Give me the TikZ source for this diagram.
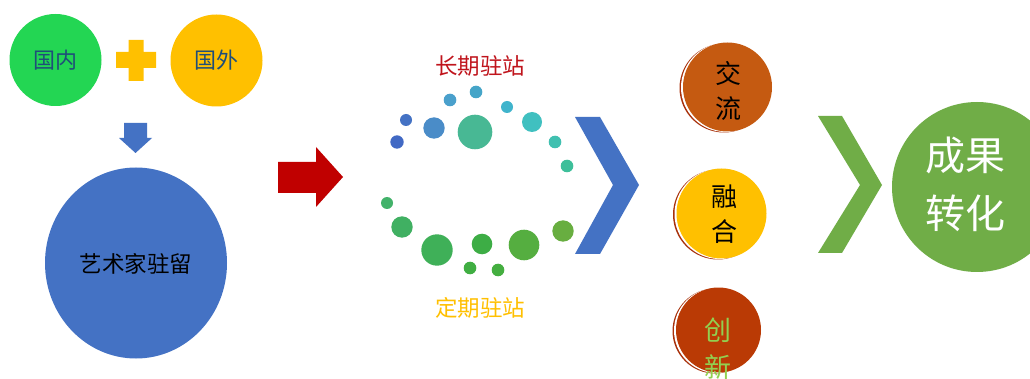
\documentclass[tikz,border=0pt]{standalone}
\usepackage{fontspec}
\setmainfont{Noto Sans CJK SC}
\usetikzlibrary{shapes.geometric}
\definecolor{cgreen}{HTML}{23D653}
\definecolor{corange}{HTML}{FFC000}
\definecolor{cblue}{HTML}{4472C4}
\definecolor{cred}{HTML}{C00000}
\definecolor{cdarkblue}{HTML}{1F4E79}
\definecolor{cbrown}{HTML}{C55A11}
\definecolor{crust}{HTML}{BA3A05}
\definecolor{crim}{HTML}{A8300A}
\definecolor{clgreen}{HTML}{92D050}
\definecolor{cmgreen}{HTML}{70AD47}
\definecolor{ctitlered}{HTML}{C0141C}
\tikzset{
  bub/.style={circle, inner sep=0pt, draw=none},
  dot/.style={circle, inner sep=0pt, draw=none, minimum size=#1},
  lbl/.style={inner sep=0pt, align=center},
}
\newcommand{\rimcircle}[4]{% name, x, y, radius
  \fill[crim] (#2-3.5,#3+1) circle (#4);
  \fill[white] (#2-2,#3+0.5) circle (#4);
}
\begin{document}
\begin{tikzpicture}[x=1pt,y=-1pt]
\useasboundingbox (0,0) rectangle (1030,379);
\fill[white] (0,0) rectangle (1030,379);
\begin{scope}
\clip (0,0) rectangle (1030,379);
% left group
\node[bub, fill=cgreen, minimum size=92pt] (gn) at (55.5,60) {};
\node[lbl, text=cdarkblue, font=\fontsize{22}{24}\selectfont] (tgn) at (gn) {国内};
\node[bub, fill=corange, minimum size=92pt] (gw) at (216.5,60.5) {};
\node[lbl, text=cdarkblue, font=\fontsize{22}{24}\selectfont] (tgw) at (gw) {国外};
% plus
\fill[corange] (116,52) -- (128.5,52) -- (128.5,40) -- (143.5,40) -- (143.5,52) -- (156,52)
  -- (156,68) -- (143.5,68) -- (143.5,81) -- (128.5,81) -- (128.5,68) -- (116,68) -- cycle;
% down arrow
\fill[cblue] (124,123) -- (147,123) -- (147,138) -- (152,138) -- (135.5,153) -- (119,138) -- (124,138) -- cycle;
% big blue
\node[ellipse, fill=cblue, inner sep=0pt, minimum width=182pt, minimum height=191pt] (art) at (136,263) {};
\node[lbl, font=\fontsize{22.5}{26}\selectfont] (tart) at (136,264) {艺术家驻留};
% red arrow
\fill[cred] (278,162) -- (316,162) -- (316,147) -- (343,177) -- (316,207) -- (316,193) -- (278,193) -- cycle;
% dots ring
\node[lbl, text=ctitlered, font=\fontsize{22.5}{26}\selectfont] (long) at (480,66) {长期驻站};
\node[lbl, text=corange, font=\fontsize{22.5}{26}\selectfont] (fix) at (480,308) {定期驻站};
\node[dot=12pt,   fill={rgb,255:red,68;green,114;blue,196}] (d1) at (406,120) {};
\node[dot=13.4pt, fill={rgb,255:red,65;green,105;blue,196}] (d2) at (397,142) {};
\node[dot=21.4pt, fill={rgb,255:red,74;green,140;blue,200}] (d3) at (434,128) {};
\node[dot=12.6pt, fill={rgb,255:red,74;green,160;blue,204}] (d4) at (450,100) {};
\node[dot=12.6pt, fill={rgb,255:red,69;green,165;blue,200}] (d5) at (476,92) {};
\node[dot=34.6pt, fill={rgb,255:red,72;green,184;blue,148}] (d6) at (475,132) {};
\node[dot=12pt,   fill={rgb,255:red,64;green,180;blue,204}] (d7) at (507,107) {};
\node[dot=20pt,   fill={rgb,255:red,64;green,192;blue,192}] (d8) at (532,122) {};
\node[dot=12.6pt, fill={rgb,255:red,64;green,192;blue,176}] (d9) at (555,142) {};
\node[dot=12.6pt, fill={rgb,255:red,62;green,191;blue,154}] (d10) at (567,166) {};
\node[dot=12pt,   fill={rgb,255:red,66;green,178;blue,106}] (d11) at (387,203) {};
\node[dot=21.4pt, fill={rgb,255:red,64;green,176;blue,98}] (d12) at (402,227) {};
\node[dot=31.4pt, fill={rgb,255:red,63;green,176;blue,88}] (d13) at (437,250) {};
\node[dot=20.6pt, fill={rgb,255:red,61;green,173;blue,69}] (d14) at (482,244) {};
\node[dot=12.6pt, fill={rgb,255:red,64;green,174;blue,66}] (d15) at (470,268) {};
\node[dot=12.6pt, fill={rgb,255:red,68;green,174;blue,64}] (d16) at (498,270) {};
\node[dot=30.6pt, fill={rgb,255:red,85;green,174;blue,64}] (d17) at (524,245) {};
\node[dot=21.4pt, fill={rgb,255:red,104;green,174;blue,64}] (d18) at (563,231) {};
% blue chevron
\fill[cblue] (575,117) -- (600,117) -- (639,185) -- (600,254) -- (575,254) -- (613,185) -- cycle;
% right circles
\rimcircle{a}{727.5}{87}{44.5}
\node[bub, fill=cbrown, minimum size=89pt] (jl) at (727.5,87) {};
\node[lbl, font=\fontsize{26}{35}\selectfont] (tjl) at (728,90.5) {交\\流};
\rimcircle{b}{721.5}{213.5}{45}
\node[bub, fill=corange, minimum size=90pt] (rh) at (721.5,213.5) {};
\node[lbl, font=\fontsize{26}{35}\selectfont] (trh) at (724,214.5) {融\\合};
\rimcircle{c}{718.5}{330}{42.5}
\node[bub, fill=crust, minimum size=85pt] (cx) at (718.5,330) {};
\node[lbl, text=clgreen, font=\fontsize{27}{37}\selectfont] (tcx) at (718,348.5) {创\\新};
% green chevron
\fill[cmgreen] (818,116) -- (842,116) -- (882,185) -- (842,253) -- (818,253) -- (860,185) -- cycle;
\node[bub, fill=cmgreen, minimum size=170pt] (cg) at (977,187) {};
\node[lbl, text=white, font=\fontsize{40}{58}\selectfont] (tcg) at (965,184) {成果\\转化};
\end{scope}
\end{tikzpicture}
\end{document}
